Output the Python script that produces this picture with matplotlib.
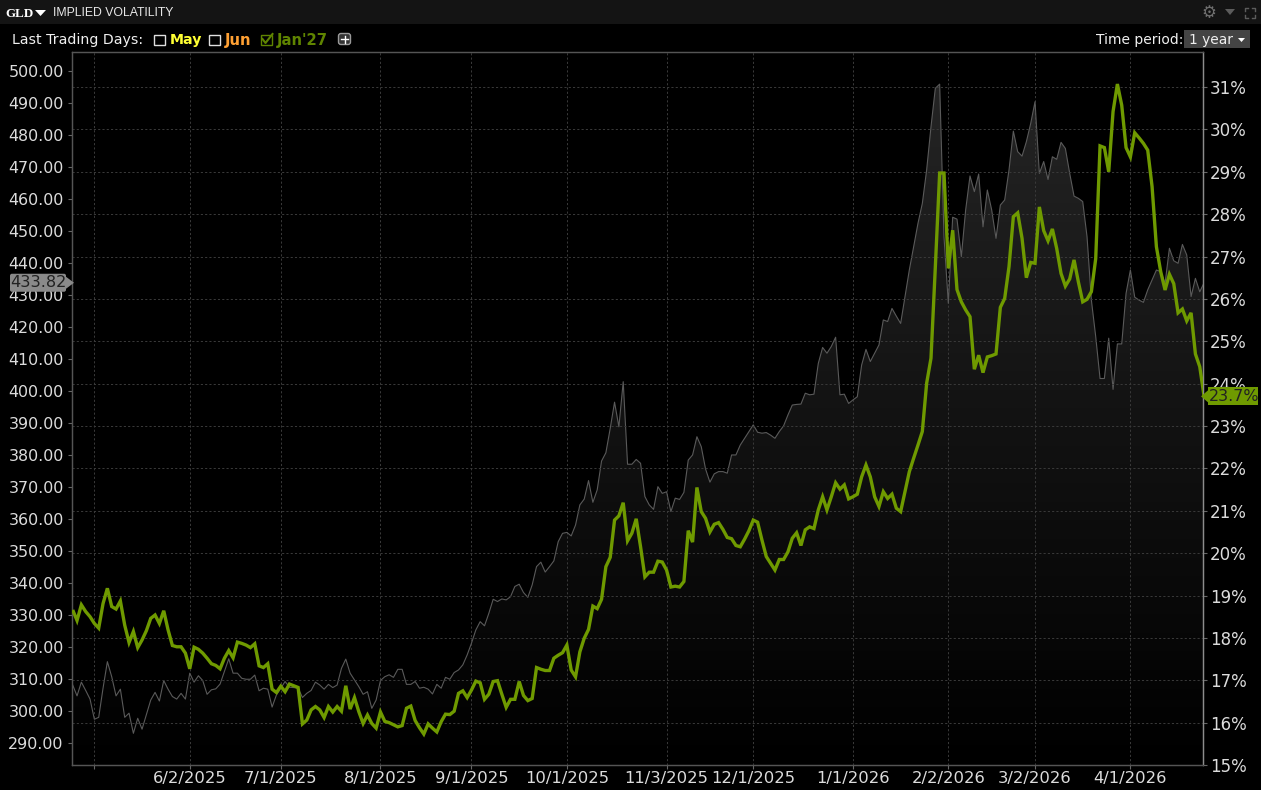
import numpy as np
import pandas as pd
import matplotlib
matplotlib.use("Agg")
import matplotlib.pyplot as plt
from matplotlib.patches import Rectangle, Polygon, FancyBboxPatch
from matplotlib.colors import LinearSegmentedColormap

START_DATE = "2025-04-24"

implied_vol = [
 18.66,18.41,18.78,18.62,18.50,18.34,18.23,18.81,19.17,18.74,18.68,18.87,18.30,17.89,18.15,17.77,17.95,18.17,18.46,18.54,
 18.34,18.64,18.19,17.82,17.79,17.79,17.64,17.27,17.78,17.73,17.64,17.52,17.39,17.35,17.27,17.52,17.70,17.53,17.90,17.87,
 17.83,17.77,17.86,17.34,17.30,17.39,16.79,16.71,16.86,16.73,16.91,16.87,16.83,15.97,16.06,16.30,16.38,16.30,16.12,16.38,
 16.25,16.38,16.27,16.87,16.32,16.59,16.26,15.98,16.18,15.98,15.87,16.25,16.03,16.00,15.95,15.90,15.93,16.34,16.39,16.05,
 15.88,15.73,15.97,15.87,15.78,16.02,16.20,16.19,16.27,16.69,16.75,16.59,16.77,16.98,16.94,
 16.55,16.67,16.97,16.99,16.67,16.36,16.55,16.55,16.97,16.64,16.52,16.57,
 17.30,17.26,17.23,17.23,17.52,17.59,17.65,17.83,17.24,17.08,17.67,17.99,18.20,18.75,18.69,18.91,19.68,19.90,20.78,20.88,
 21.19,20.29,20.47,20.81,20.15,19.44,19.55,19.55,19.81,19.79,19.60,19.20,19.22,19.20,19.33,20.53,20.26,21.55,20.98,20.82,
 20.50,20.68,20.72,20.56,20.37,20.34,20.18,20.15,20.33,20.53,20.78,20.73,20.31,19.92,19.76,19.60,19.85,19.85,20.03,20.35,
 20.48,20.18,20.55,20.62,20.58,21.02,21.33,21.02,21.33,21.66,21.51,21.61,21.28,21.33,21.39,21.80,22.08,21.80,21.33,21.10,
 21.45,21.29,
 21.39,21.06,20.98,21.45,21.92,22.24,22.55,22.87,
 24.01,24.60,26.75,28.97,28.97,26.72,27.62,26.22,25.93,25.74,25.58,24.34,24.67,24.26,24.63,24.66,24.70,25.80,26.01,26.76,
 27.94,28.03,27.43,26.50,26.86,26.84,28.17,27.61,27.37,27.65,27.19,26.60,26.30,26.47,26.92,26.40,25.93,25.99,26.17,26.95,
 29.61,29.57,29.00,30.42,31.07,30.57,29.57,29.35,29.92,29.80,29.67,29.51,28.65,27.23,26.64,26.21,26.58,26.36,25.67,25.76,
 25.48,25.67,24.70,24.40,23.70,
]

price = [
 308.1,304.7,309.0,306.4,303.7,297.4,298.0,307.1,315.4,310.7,304.7,306.8,298.0,299.3,293.0,297.7,294.3,298.8,303.4,305.8,
 303.1,309.5,306.8,304.5,303.7,305.5,303.7,311.8,309.0,311.0,309.5,305.2,306.6,306.9,308.4,312.3,316.3,311.8,311.8,310.2,
 309.9,309.9,311.2,306.3,307.1,306.8,301.2,305.0,307.1,309.2,307.4,307.3,307.1,304.2,305.5,306.4,309.0,308.1,306.8,308.3,
 307.3,308.1,313.3,316.2,311.8,309.7,307.6,305.2,306.0,300.8,303.4,309.5,310.7,311.3,310.5,313.0,313.0,308.3,308.3,309.2,
 307.1,307.4,306.8,305.3,308.3,307.1,310.5,309.9,312.0,312.8,314.4,317.5,321.2,325.3,327.9,
 326.6,330.5,334.9,334.2,335.0,334.7,335.7,338.9,339.6,337.0,335.5,339.4,345.1,346.5,343.4,345.1,346.9,352.9,355.5,355.8,
 354.7,358.1,364.4,366.2,372.0,365.2,369.1,378.1,380.7,388.3,396.5,388.8,402.9,377.1,377.1,378.6,377.4,367.0,364.4,363.0,
 370.1,368.0,368.5,362.3,366.5,366.1,368.3,378.4,380.0,385.7,382.6,375.6,371.5,374.1,374.8,374.8,374.3,380.0,380.0,383.1,
 385.2,387.3,389.4,387.1,386.8,387.0,386.2,385.2,387.3,389.1,392.5,395.6,395.8,395.9,399.3,398.8,399.0,
 408.6,413.6,411.8,413.9,416.8,398.8,399.0,396.1,397.2,398.2,
 408.1,413.0,409.2,411.8,414.4,422.2,421.7,425.8,423.4,421.1,429.5,437.8,445.1,452.4,458.6,469.1,482.6,494.6,495.9,448.2,
 427.4,454.3,453.7,442.0,456.6,467.2,462.3,467.8,451.3,462.8,456.6,447.7,458.1,459.7,469.1,481.2,474.8,473.4,477.9,483.6,
 490.4,468.0,471.7,466.1,473.2,472.4,477.7,475.8,468.0,460.9,460.2,459.2,448.2,428.4,417.0,403.9,403.9,416.5,400.5,414.7,
 414.7,430.5,437.8,429.3,428.4,427.7,431.6,434.7,437.8,437.3,433.6,444.6,440.7,439.9,445.8,442.5,429.5,435.2,431.0,433.82,
]

tick_dates = ["2025-05-01","2025-06-02","2025-07-01","2025-08-01","2025-09-01","2025-10-01",
              "2025-11-03","2025-12-01","2026-01-01","2026-02-02","2026-03-02","2026-04-01"]
tick_labels = ["","6/2/2025","7/1/2025","8/1/2025","9/1/2025","10/1/2025",
               "11/3/2025","12/1/2025","1/1/2026","2/2/2026","3/2/2026","4/1/2026"]
price_ticks = list(range(290, 501, 10))
iv_ticks = list(range(15, 32))

W, H = 1261, 790
L, R, T, B = 72, 1203, 52, 765
GREEN = "#6f9a00"
TXT = "#dcdcdc"
plt.rcParams["font.family"] = ["DejaVu Sans"]

fig = plt.figure(figsize=(W/100, H/100), dpi=100, facecolor="#000000")
ax = fig.add_axes([L/W, 1-B/H, (R-L)/W, (B-T)/H], facecolor="#000000")
ax2 = ax.twinx()
ax2.patch.set_visible(False)

dates = pd.bdate_range(START_DATE, periods=len(implied_vol))
xs = np.arange(len(dates))
tick_pos = dates.get_indexer(pd.to_datetime(tick_dates))

xlim = (-0.16, 260.75)
ax.set_xlim(*xlim)
ax.set_ylim(283.1, 505.94)
ax2.set_ylim(15.0, 31.826)

# gradient area under price
cmap = LinearSegmentedColormap.from_list("a", ["#000000", "#262626"])
grad = np.linspace(1, 0, 256).reshape(-1, 1)
im = ax.imshow(grad, aspect="auto", cmap=cmap, vmin=0, vmax=1,
               extent=(xlim[0], xlim[1], 283.1, 505.94), zorder=0.5, origin="upper")
poly = ax.fill_between(xs[:len(price)], price, 283.1, color="none", lw=0)
im.set_clip_path(poly.get_paths()[0], transform=ax.transData)
ax.set_xlim(*xlim); ax.set_ylim(283.1, 505.94)

ax.plot(xs[:len(price)], price, color="#5a5a5a", lw=0.8, zorder=3)
ax2.plot(xs, implied_vol, color=GREEN, lw=2.4, zorder=4, solid_joinstyle="miter", solid_capstyle="butt")

ax.set_axisbelow(False)
ax.set_xticks(tick_pos)
ax.set_xticklabels(tick_labels)
ax.set_yticks(price_ticks)
ax.set_yticklabels([f"{v:.2f}" for v in price_ticks])
ax2.set_yticks(iv_ticks)
ax2.set_yticklabels([f"{v}%" for v in iv_ticks])

grid_kw = dict(color="#3a3a3a", lw=0.7, ls=(0, (2.2, 2.2)))
ax.grid(axis="x", **grid_kw)
ax2.grid(axis="y", **grid_kw)
ax.grid(axis="y", visible=False)

ax.tick_params(axis="x", colors=TXT, labelsize=11.8, length=3, width=0.8, color="#666666", pad=1)
ax.tick_params(axis="y", colors=TXT, labelsize=11.4, length=3, width=0.8, color="#666666", pad=3)
ax2.tick_params(axis="y", colors=TXT, labelsize=12, length=3, width=0.8, color="#666666", pad=2)
for a in (ax, ax2):
    for s in a.spines.values():
        s.set_color("#555555"); s.set_linewidth(0.9)
    a.spines["right"].set_color("#8c8c8c")

# pixel-space overlay for the interface chrome
ov = fig.add_axes([0, 0, 1, 1], facecolor="none", zorder=10)
ov.set_xlim(0, W); ov.set_ylim(H, 0); ov.axis("off")

fig.canvas.draw()
def ypx(a, v):
    return H - a.transData.transform((0, v))[1]

ov.add_patch(Rectangle((0, 0), W, 24, fc="#141414", ec="none"))
ov.text(5, 14, "GLD", color="#ffffff", fontsize=9.4, fontweight="bold", family="Liberation Serif", va="center")
ov.add_patch(Polygon([(35, 10), (46, 10), (40.5, 16)], fc="#ffffff", ec="none"))
ov.text(53, 12.5, "IMPLIED VOLATILITY", color="#e8e8e8", fontsize=8.8, family="Liberation Sans", va="center")

ov.text(12, 40, "Last Trading Days:", color="#f0f0f0", fontsize=10.2, va="center")
for x0 in (153.5, 208.5):
    ov.add_patch(Rectangle((x0, 34.5), 11, 10, fc="none", ec="#e0e0e0", lw=1))
ov.text(170, 40, "May", color="#ffff33", fontsize=10.2, fontweight="bold", va="center")
ov.text(225, 40, "Jun", color="#ffa033", fontsize=10.6, fontweight="bold", va="center")
ov.add_patch(Rectangle((260.5, 34.5), 11, 10, fc="none", ec="#5f8400", lw=1))
ov.plot([262.5, 265.5, 272.5], [39, 43, 34], color="#5f8400", lw=1.5)
ov.text(277, 40, "Jan'27", color="#5f8400", fontsize=10.7, fontweight="bold", va="center")
ov.add_patch(FancyBboxPatch((338.5, 33.5), 12, 11, boxstyle="round,pad=0,rounding_size=2.5", fc="#333333", ec="#999999", lw=1))
ov.plot([341, 348], [39, 39], color="#ffffff", lw=1)
ov.plot([344.5, 344.5], [35.5, 42.5], color="#ffffff", lw=1)

ov.text(1183, 40, "Time period:", color="#f0f0f0", fontsize=10.0, va="center", ha="right")
ov.add_patch(Rectangle((1184, 30), 66, 18, fc="#444444", ec="none"))
ov.text(1189, 40, "1 year", color="#f0f0f0", fontsize=9.9, va="center")
ov.add_patch(Polygon([(1238, 38), (1245, 38), (1241.5, 42)], fc="#ffffff", ec="none"))

ov.text(1209, 12.5, "\u2699", color="#707070", fontsize=12, ha="center", va="center")
ov.add_patch(Polygon([(1225, 9), (1235, 9), (1230, 15)], fc="#5c5c5c", ec="none"))
for sx, sy in ((-1, -1), (1, -1), (-1, 1), (1, 1)):
    cx, cy = 1250 + sx*5, 12.5 + sy*5
    ov.plot([cx, cx, cx - sx*3], [cy - sy*3, cy, cy], color="#5c5c5c", lw=1)

# last-value flags
yp = ypx(ax, price[-1])
ov.add_patch(FancyBboxPatch((10, yp-9), 56, 18, boxstyle="round,pad=0,rounding_size=2", fc="#8a8a8a", ec="none"))
ov.add_patch(Polygon([(66, yp-6), (74, yp), (66, yp+6)], fc="#8a8a8a", ec="none"))
ov.text(38.5, yp, f"{price[-1]:.2f}", color="#222222", fontsize=11.6, ha="center", va="center")

yg = ypx(ax2, implied_vol[-1])
ov.add_patch(Rectangle((1208, yg-9), 50, 18, fc=GREEN, ec="none"))
ov.add_patch(Polygon([(1208, yg-6), (1201, yg), (1208, yg+6)], fc=GREEN, ec="none"))
ov.text(1209, yg, f"{implied_vol[-1]:.1f}%", color="#222222", fontsize=11.4, ha="left", va="center", clip_on=True)

fig.savefig("out.png", dpi=100, facecolor=fig.get_facecolor())
